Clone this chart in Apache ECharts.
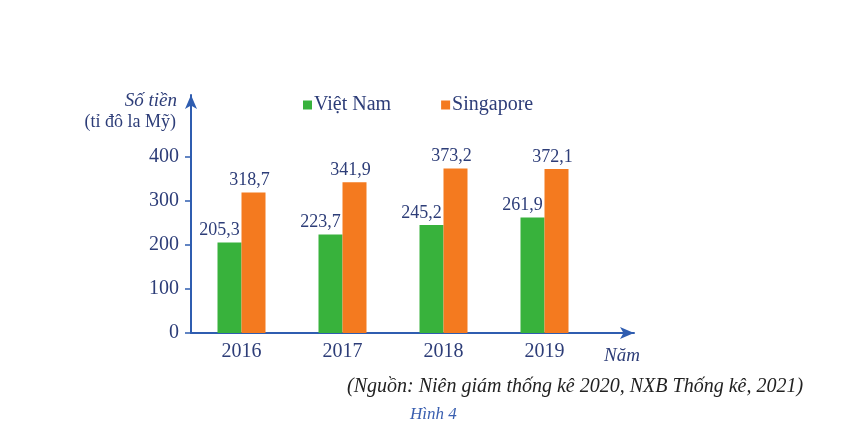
<!DOCTYPE html>
<html><head><meta charset="utf-8">
<script src="https://cdn.jsdelivr.net/npm/echarts@6/dist/echarts.min.js"></script>
<style>html,body{margin:0;padding:0;background:#fff}#c{width:855px;height:431px}</style>
</head><body><div id="c"></div>
<script>
const categories = ['2016', '2017', '2018', '2019'];
const vietNam = [205.3, 223.7, 245.2, 261.9];
const singapore = [318.7, 341.9, 373.2, 372.1];
const yTicks = [0, 100, 200, 300, 400];

const blue = '#2f5db0';
const txt = '#2d3d78';
const serif = '"Liberation Serif", "DejaVu Serif", serif';
const fmt = p => p.value.toFixed(1).replace('.', ',');

const chart = echarts.init(document.getElementById('c'));
chart.setOption({
  animation: false,
  textStyle: { fontFamily: serif },
  legend: {
    left: 298, top: 90, itemWidth: 9, itemHeight: 9, itemGap: 50,
    icon: 'rect',
    textStyle: { fontFamily: serif, fontSize: 20, color: txt, padding: [0, 0, 0, -3] },
    data: ['Việt Nam', 'Singapore']
  },
  title: [
    { text: 'Số tiền', right: 855 - 182, top: 86, textStyle: { fontFamily: serif, fontSize: 19, fontStyle: 'italic', fontWeight: 'normal', color: txt } },
    { text: '(tỉ đô la Mỹ)', right: 855 - 181, top: 108, textStyle: { fontFamily: serif, fontSize: 18, fontWeight: 'normal', color: txt } },
    { text: 'Năm', left: 599, top: 341, textStyle: { fontFamily: serif, fontSize: 19, fontStyle: 'italic', fontWeight: 'normal', color: txt } },
    { text: '(Nguồn: Niên giám thống kê 2020, NXB Thống kê, 2021)', left: 342, top: 372, textStyle: { fontFamily: serif, fontSize: 20, fontStyle: 'italic', fontWeight: 'normal', color: '#222' } },
    { text: 'Hình 4', left: 405, top: 401, textStyle: { fontFamily: serif, fontSize: 17, fontStyle: 'italic', fontWeight: 'normal', color: '#3a5fb0' } }
  ],
  grid: [
    { left: 191, right: 260, top: 95, bottom: 98 },
    { left: 191, right: 221, top: 95, bottom: 98 }
  ],
  xAxis: [
    {
      type: 'category', data: categories, gridIndex: 0,
      axisLine: { show: false }, axisTick: { show: false },
      axisLabel: { fontFamily: serif, fontSize: 20, color: txt, margin: 9 }
    },
    {
      type: 'value', gridIndex: 1, min: 0, max: 1,
      axisLine: { show: true, symbol: ['none', 'arrow'], symbolSize: [9, 14], lineStyle: { color: blue, width: 2 } },
      axisTick: { show: false }, axisLabel: { show: false }, splitLine: { show: false }
    }
  ],
  yAxis: [
    {
      type: 'value', gridIndex: 0, min: 0, max: 540, interval: 100,
      axisLine: { show: true, symbol: ['none', 'arrow'], symbolSize: [9, 14], lineStyle: { color: blue, width: 2 } },
      axisTick: { show: true, customValues: yTicks, length: 6, lineStyle: { color: blue, width: 1.5 } },
      axisLabel: { customValues: yTicks, fontFamily: serif, fontSize: 20, color: txt, margin: 12 },
      splitLine: { show: false }
    },
    { type: 'value', gridIndex: 1, show: false, min: 0, max: 1 }
  ],
  series: [
    {
      name: 'Việt Nam', type: 'bar', data: vietNam, barWidth: 24, barGap: '0%',
      itemStyle: { color: '#38b23c' },
      label: { show: true, position: 'top', distance: 3, offset: [-10, 0], formatter: fmt, fontFamily: serif, fontSize: 18, color: txt }
    },
    {
      name: 'Singapore', type: 'bar', data: singapore, barWidth: 24, barGap: '0%',
      itemStyle: { color: '#f47a1f' },
      label: { show: true, position: 'top', distance: 3, offset: [-4, 0], formatter: fmt, fontFamily: serif, fontSize: 18, color: txt }
    }
  ]
});
</script></body></html>
